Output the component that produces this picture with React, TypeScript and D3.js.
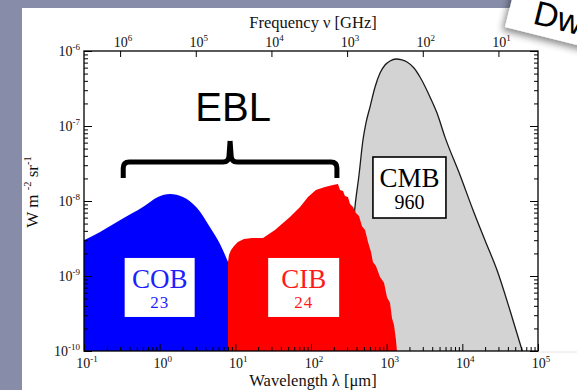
import React, { useRef, useEffect } from 'react';
import * as d3 from 'd3';

// --- Data (wavelength in µm, intensity in W m^-2 sr^-1) ---
// Cosmic optical background
const cobWavelength = [0.1, 0.163, 0.318, 0.6, 0.95, 1.37, 2.03, 3.1, 4.6, 6.27, 8.0];
const cobIntensity = [3.0e-9, 3.86e-9, 5.75e-9, 8.3e-9, 1.13e-8, 1.24e-8, 1.13e-8, 8.1e-9, 4.5e-9, 2.67e-9, 1.54e-9];

// Cosmic infrared background (noisy right side)
const cibWavelength = [8.0, 8.24, 8.77, 9.6, 10.8, 13.0, 16.6, 23.2, 33.4, 52.7,
    71.6, 91.2, 116, 153, 195, 227, 242, 265, 281, 308,
    328, 359, 393, 431, 472, 518, 567, 621, 659, 722,
    817, 923, 1010, 1107, 1175, 1250, 1328, 1368];
const cibIntensity = [1.54e-9, 1.91e-9, 2.22e-9, 2.51e-9, 2.84e-9, 3.11e-9, 3.21e-9, 3.21e-9, 4.1e-9, 6.1e-9,
    8.3e-9, 1.13e-8, 1.40e-8, 1.54e-8, 1.63e-8, 1.69e-8, 1.40e-8, 1.36e-8, 1.17e-8, 1.13e-8,
    9.1e-9, 8.3e-9, 6.9e-9, 6.3e-9, 4.6e-9, 4.1e-9, 2.84e-9, 2.09e-9, 1.54e-9, 1.36e-9,
    9.7e-10, 8.1e-10, 5.2e-10, 4.4e-10, 2.75e-10, 2.22e-10, 1.40e-10, 1.0e-10];

// Cosmic microwave background
const cmbWavelength = [290, 318, 348, 381, 431, 486, 533, 602, 702, 817,
    951, 1107, 1328, 1593, 1857, 2297, 2757, 3738, 4627, 5900,
    9310, 13830, 19920, 28700, 42600, 62000];
const cmbIntensity = [1e-10, 6.5e-10, 3.0e-9, 8.3e-9, 2.22e-8, 6.5e-8, 1.10e-7, 1.79e-7, 3.31e-7, 5.09e-7,
    6.5e-7, 7.36e-7, 7.82e-7, 7.59e-7, 7.14e-7, 5.93e-7, 4.5e-7, 2.44e-7, 1.49e-7, 7.1e-8,
    2.22e-8, 7.6e-9, 3.0e-9, 1.2e-9, 3.5e-10, 1e-10];

// Boxed labels: name, total intensity (nW m^-2 sr^-1), anchor (box centre wavelength, box top intensity)
const labelNames = ['COB', 'CIB', 'CMB'];
const labelTotals = ['23', '24', '960'];
const labelWavelength = [1.0, 80, 2000];
const labelIntensity = [1.74e-9, 1.74e-9, 3.86e-8];

// EBL brace spans these wavelengths, at this intensity
const braceWavelength = [0.33, 220];
const braceIntensity = 3.31e-8;

// Axis ticks
const wavelengthDomain = [0.1, 1e5];
const intensityDomain = [1e-10, 1e-6];
const frequencyTicks = [1e6, 1e5, 1e4, 1e3, 1e2, 1e1]; // GHz

const W = 577, H = 390;
const serif = "'Liberation Serif', 'Times New Roman', serif";
const sans = "'Liberation Sans', Arial, sans-serif";

const App = () => {
    const ref = useRef<SVGSVGElement>(null);

    useEffect(() => {
        const svg = d3.select(ref.current);
        svg.selectAll('*').remove();

        const margin = { top: 51, right: 39, bottom: 39, left: 84 };
        const x = d3.scaleLog().domain(wavelengthDomain).range([margin.left, W - margin.right]);
        const y = d3.scaleLog().domain(intensityDomain).range([H - margin.bottom, margin.top]);
        // nu [GHz] = 3e5 / lambda [um]
        const xTop = d3.scaleLog().domain([3e5 / wavelengthDomain[0], 3e5 / wavelengthDomain[1]]).range(x.range());
        const x0 = margin.left, x1 = W - margin.right, y0 = margin.top, y1 = H - margin.bottom;

        // slide background + white panel
        svg.append('rect').attr('width', W).attr('height', H).attr('fill', '#878ca8');
        svg.append('rect').attr('x', 22).attr('y', 8).attr('width', W - 22).attr('height', H - 8).attr('fill', '#fff');

        const defs = svg.append('defs');
        defs.append('clipPath').attr('id', 'plot-clip')
            .append('rect').attr('x', x0).attr('y', y0).attr('width', x1 - x0).attr('height', y1 - y0);
        const f = defs.append('filter').attr('id', 'card-shadow')
            .attr('x', '-20%').attr('y', '-20%').attr('width', '140%').attr('height', '160%');
        f.append('feDropShadow').attr('dx', -2).attr('dy', 4).attr('stdDeviation', 3.5)
            .attr('flood-color', '#000').attr('flood-opacity', 0.45);

        // faint slide line to the right of the plot
        svg.append('line').attr('x1', x1).attr('x2', W).attr('y1', y1 + 1).attr('y2', y1 + 1)
            .attr('stroke', '#e4e4e4').attr('stroke-width', 1);

        const plot = svg.append('g').attr('clip-path', 'url(#plot-clip)');

        const areaFor = (wl: number[], val: number[], curve: d3.CurveFactory) =>
            d3.area<number>()
                .x(i => x(wl[i]))
                .y0(y(intensityDomain[0]))
                .y1(i => y(val[i]))
                .curve(curve)(d3.range(wl.length));

        // CMB (behind the CIB)
        plot.append('path')
            .attr('d', areaFor(cmbWavelength, cmbIntensity, d3.curveMonotoneX))
            .attr('fill', '#d3d3d3');
        plot.append('path')
            .attr('d', d3.line<number>().x(i => x(cmbWavelength[i])).y(i => y(cmbIntensity[i]))
                .curve(d3.curveMonotoneX)(d3.range(cmbWavelength.length)))
            .attr('fill', 'none').attr('stroke', '#1a1a1a').attr('stroke-width', 1.3);

        plot.append('path')
            .attr('d', areaFor(cibWavelength, cibIntensity, d3.curveLinear))
            .attr('fill', '#ff0000');
        plot.append('path')
            .attr('d', areaFor(cobWavelength, cobIntensity, d3.curveMonotoneX))
            .attr('fill', '#0000ff');

        // EBL brace
        const bl = x(braceWavelength[0]), br = x(braceWavelength[1]), bm = (bl + br) / 2, by = y(braceIntensity);
        const r = 6;
        const brace = `M${bl},${by + 16} L${bl},${by + r} Q${bl},${by} ${bl + r},${by} L${bm - 7},${by} Q${bm - 1},${by} ${bm - 1},${by - 7} L${bm},${by - 21}`
            + ` M${br},${by + 16} L${br},${by + r} Q${br},${by} ${br - r},${by} L${bm + 7},${by} Q${bm + 1},${by} ${bm + 1},${by - 7} L${bm},${by - 21}`;
        svg.append('path').attr('d', brace).attr('fill', 'none').attr('stroke', '#000')
            .attr('stroke-width', 5).attr('stroke-linejoin', 'round');
        svg.append('text').attr('x', bm + 3).attr('y', by - 41).attr('text-anchor', 'middle')
            .attr('font-family', sans).attr('font-size', 40).attr('fill', '#000').text('EBL');

        // boxed labels
        const boxW = [70, 71, 73], boxH = 59;
        const labelColor = ['#1f1fff', '#ff1a1a', '#000'];
        labelNames.forEach((name, i) => {
            const cx = x(labelWavelength[i]), top = y(labelIntensity[i]);
            const cmb = i === 2;
            const g = svg.append('g');
            g.append('rect').attr('x', cx - boxW[i] / 2).attr('y', top)
                .attr('width', boxW[i]).attr('height', cmb ? boxH + 2 : boxH)
                .attr('fill', '#fff')
                .attr('stroke', cmb ? '#000' : 'none').attr('stroke-width', 1.6);
            g.append('text').attr('x', cx).attr('y', top + 30).attr('text-anchor', 'middle')
                .attr('font-family', serif).attr('font-size', 27).attr('fill', labelColor[i]).text(name);
            g.append('text').attr('x', cx).attr('y', top + (cmb ? 52 : 50)).attr('text-anchor', 'middle')
                .attr('font-family', serif).attr('font-size', cmb ? 20 : 17)
                .attr('letter-spacing', cmb ? 0 : 1).attr('fill', labelColor[i]).text(labelTotals[i]);
        });

        // frame
        svg.append('rect').attr('x', x0).attr('y', y0).attr('width', x1 - x0).attr('height', y1 - y0)
            .attr('fill', 'none').attr('stroke', '#000').attr('stroke-width', 1.3);

        const isMajor = (v: number) => Math.abs(Math.log10(v) - Math.round(Math.log10(v))) < 1e-6;
        const xMajor = x.ticks().filter(isMajor), xMinor = x.ticks().filter(v => !isMajor(v));
        const yMajor = y.ticks().filter(isMajor), yMinor = y.ticks().filter(v => !isMajor(v));

        const drawAxis = (axis: d3.Axis<number>, tx: number, ty: number) => {
            const g = svg.append('g').attr('transform', `translate(${tx},${ty})`).call(axis as any);
            g.select('.domain').remove();
            g.selectAll('.tick line').attr('stroke', '#000').attr('stroke-width', 1);
            g.selectAll('.tick text').remove();
            return g;
        };
        drawAxis(d3.axisBottom(x).tickValues(xMajor).tickSizeInner(-7).tickSizeOuter(0), 0, y1);
        drawAxis(d3.axisBottom(x).tickValues(xMinor).tickSizeInner(-4).tickSizeOuter(0), 0, y1);
        drawAxis(d3.axisLeft(y).tickValues(yMajor).tickSizeInner(-8).tickSizeOuter(0), x0, 0);
        drawAxis(d3.axisLeft(y).tickValues(yMinor).tickSizeInner(-4).tickSizeOuter(0), x0, 0);
        drawAxis(d3.axisRight(y).tickValues(yMajor).tickSizeInner(-8).tickSizeOuter(0), x1, 0);
        drawAxis(d3.axisRight(y).tickValues(yMinor).tickSizeInner(-4).tickSizeOuter(0), x1, 0);
        drawAxis(d3.axisTop(xTop).tickValues(frequencyTicks).tickSizeInner(-6).tickSizeOuter(0), 0, y0);

        // power-of-ten labels
        const pow = (px: number, py: number, v: number, anchor: string) => {
            const t = svg.append('text').attr('x', px).attr('y', py).attr('text-anchor', anchor)
                .attr('font-family', serif).attr('font-size', 14).attr('fill', '#111');
            t.append('tspan').text('10');
            t.append('tspan').attr('dy', -6).attr('font-size', 9).text(String(Math.round(Math.log10(v))));
        };
        xMajor.forEach(v => pow(x(v) + 3, y1 + 17, v, 'middle'));
        yMajor.forEach(v => pow(x0 - 4, y(v) + 5, v, 'end'));
        frequencyTicks.forEach(v => pow(xTop(v) + 3, y0 - 4, v, 'middle'));

        // axis titles
        svg.append('text').attr('x', (x0 + x1) / 2 + 2).attr('y', 28).attr('text-anchor', 'middle')
            .attr('font-family', serif).attr('font-size', 16.5).attr('fill', '#111').text('Frequency ν [GHz]');
        svg.append('text').attr('x', (x0 + x1) / 2 + 2).attr('y', 386).attr('text-anchor', 'middle')
            .attr('font-family', serif).attr('font-size', 16.5).attr('fill', '#111').text('Wavelength λ [μm]');
        const yt = svg.append('text').attr('transform', `translate(38,${(y0 + y1) / 2 - 9}) rotate(-90)`)
            .attr('text-anchor', 'middle').attr('font-family', serif).attr('font-size', 17).attr('fill', '#111');
        yt.append('tspan').text('W m ');
        yt.append('tspan').attr('dy', -7).attr('font-size', 10.5).text('-2');
        yt.append('tspan').attr('dy', 7).text(' sr');
        yt.append('tspan').attr('dy', -7).attr('font-size', 10.5).text('-1');

        // paper card peeking in from the top right
        const card = svg.append('g').attr('transform', 'translate(505,27) rotate(14)');
        card.append('rect').attr('x', 0).attr('y', -80).attr('width', 140).attr('height', 80)
            .attr('fill', '#fff').attr('filter', 'url(#card-shadow)');
        card.append('text').attr('x', 25).attr('y', -10).attr('font-family', sans)
            .attr('font-size', 34).attr('fill', '#000').text('Dw');
    }, []);

    return (
        <svg ref={ref} width={W} height={H}
            style={{ position: 'absolute', left: 0, top: 0, display: 'block' }} />
    );
};

export default App;
